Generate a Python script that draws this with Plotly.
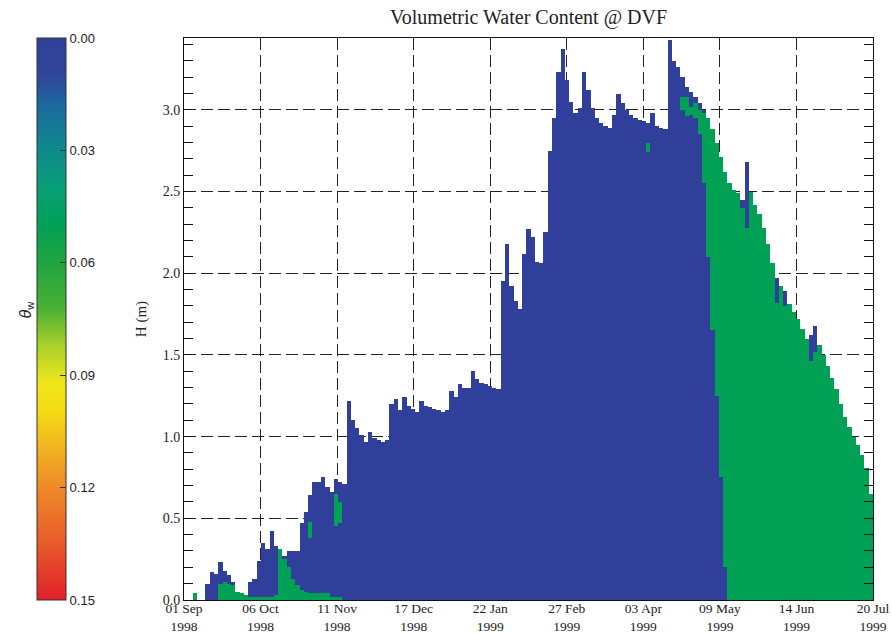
import numpy as np
import plotly.graph_objects as go

# ---------------------------------------------------------------
# Snow-pack water content at DVF, 01 Sep 1998 - 20 Jul 1999
# one column per 2-day interval (start day since 01 Sep 1998)
# ---------------------------------------------------------------
step_days = 2
n_days = 322

# snow depth H (m) for each 2-day column
snow_depth = [
    0.00, 0.00, 0.04, 0.00, 0.00, 0.10, 0.17, 0.16, 0.23, 0.18,
    0.15, 0.11, 0.05, 0.04, 0.03, 0.11, 0.13, 0.24, 0.35, 0.31,
    0.42, 0.33, 0.31, 0.27, 0.30, 0.30, 0.30, 0.47, 0.54, 0.64,
    0.72, 0.72, 0.75, 0.69, 0.66, 0.74, 0.72, 0.71, 1.22, 1.10,
    1.05, 1.01, 0.97, 1.03, 0.99, 0.98, 0.97, 0.98, 1.20, 1.23,
    1.16, 1.24, 1.19, 1.17, 1.15, 1.22, 1.19, 1.18, 1.17, 1.16,
    1.15, 1.16, 1.28, 1.24, 1.32, 1.30, 1.30, 1.40, 1.35, 1.33,
    1.32, 1.31, 1.30, 1.29, 1.95, 2.18, 1.92, 1.83, 1.78, 2.12,
    2.27, 2.22, 2.07, 2.06, 2.25, 2.75, 2.95, 3.23, 3.37, 3.18,
    3.05, 2.98, 3.01, 3.23, 3.12, 3.01, 2.95, 2.92, 2.90, 2.89,
    2.97, 3.10, 3.04, 3.00, 2.97, 2.95, 2.94, 2.93, 2.92, 2.98,
    2.90, 2.89, 2.88, 3.43, 3.30, 3.26, 3.20, 3.14, 3.11, 3.08,
    3.04, 3.00, 2.95, 2.88, 2.80, 2.71, 2.62, 2.55, 2.51, 2.49,
    2.45, 2.68, 2.50, 2.42, 2.36, 2.28, 2.18, 2.06, 1.97, 1.92,
    1.89, 1.81, 1.76, 1.72, 1.66, 1.60, 1.62, 1.68, 1.56, 1.50,
    1.43, 1.36, 1.29, 1.20, 1.12, 1.06, 1.00, 0.95, 0.89, 0.81,
    0.65,
]

# top of the wet basal layer (m above ground) for each column
basal_wet_top = [
    0.00, 0.00, 0.04, 0.00, 0.00, 0.00, 0.00, 0.00, 0.10, 0.11,
    0.10, 0.09, 0.05, 0.04, 0.03, 0.02, 0.02, 0.02, 0.02, 0.02,
    0.02, 0.03, 0.31, 0.25, 0.20, 0.13, 0.09, 0.06, 0.05, 0.035,
    0.035, 0.035, 0.035, 0.035, 0.02, 0.02, 0.02, 0.00, 0.00, 0.00,
    0.00, 0.00, 0.00, 0.00, 0.00, 0.00, 0.00, 0.00, 0.00, 0.00,
    0.00, 0.00, 0.00, 0.00, 0.00, 0.00, 0.00, 0.00, 0.00, 0.00,
    0.00, 0.00, 0.00, 0.00, 0.00, 0.00, 0.00, 0.00, 0.00, 0.00,
    0.00, 0.00, 0.00, 0.00, 0.00, 0.00, 0.00, 0.00, 0.00, 0.00,
    0.00, 0.00, 0.00, 0.00, 0.00, 0.00, 0.00, 0.00, 0.00, 0.00,
    0.00, 0.00, 0.00, 0.00, 0.00, 0.00, 0.00, 0.00, 0.00, 0.00,
    0.00, 0.00, 0.00, 0.00, 0.00, 0.00, 0.00, 0.00, 0.00, 0.00,
    0.00, 0.00, 0.00, 0.00, 0.00, 0.00, 0.00, 0.00, 0.00, 0.00,
    0.00, 0.00, 0.00, 0.00, 0.00, 0.00, 0.00, 2.55, 2.51, 2.49,
    2.40, 2.28, 2.50, 2.42, 2.36, 2.28, 2.18, 2.06, 1.82, 1.92,
    1.80, 1.81, 1.76, 1.72, 1.66, 1.60, 1.46, 1.52, 1.56, 1.50,
    1.43, 1.36, 1.29, 1.20, 1.12, 1.06, 1.00, 0.95, 0.89, 0.81,
    0.65,
]

# wet bands higher up in the pack (percolation / melt front)
upper_wet_day = [58, 70, 72, 216, 232, 234, 236, 238, 240, 242, 244, 246, 248, 250, 252]
upper_wet_lo = [0.38, 0.45, 0.47, 2.74, 3.00, 2.96, 2.97, 2.95, 2.85, 2.55, 2.10, 1.65, 1.25, 0.75, 0.20]
upper_wet_hi = [0.48, 0.65, 0.60, 2.80, 3.08, 3.08, 3.02, 3.04, 3.00, 2.98, 2.95, 2.88, 2.80, 2.71, 2.62]

theta_dry = 0.0
theta_wet = 0.05

# axis labelling
tick_labels = ["01 Sep<br>1998", "06 Oct<br>1998", "11 Nov<br>1998", "17 Dec<br>1998",
               "22 Jan<br>1999", "27 Feb<br>1999", "03 Apr<br>1999", "09 May<br>1999",
               "14 Jun<br>1999", "20 Jul<br>1999"]
h_ticks = [0.0, 0.5, 1.0, 1.5, 2.0, 2.5, 3.0]
cbar_ticks = [0.00, 0.03, 0.06, 0.09, 0.12, 0.15]

# colour table for theta_w
theta_stops = [0.000, 0.010, 0.018, 0.030, 0.040, 0.050, 0.060, 0.072,
               0.082, 0.092, 0.100, 0.110, 0.120, 0.135, 0.150]
theta_colors = ["#30409A", "#2F469A", "#1C6A9E", "#0E8A8C", "#08A078", "#00A055",
                "#22A440", "#48B034", "#A8D02A", "#F0E61A", "#F5DA14", "#F2B020",
                "#EE8A28", "#E85A2A", "#E0202A"]

# ---------------------------------------------------------------
# build the depth/time grid
# ---------------------------------------------------------------
theta_max = 0.15
h_top = 3.44
dy = 0.01
x_edges = np.arange(0, n_days + step_days, step_days)
y_edges = np.round(np.arange(0, h_top + dy / 2, dy), 4)
y_mid = y_edges[:-1] + dy / 2

depth = np.array(snow_depth)
basal = np.array(basal_wet_top)
theta = np.full((len(y_mid), len(depth)), np.nan)
for j in range(len(depth)):
    snow = y_mid < depth[j]
    wet = y_mid < basal[j]
    d0 = j * step_days
    for d, lo, hi in zip(upper_wet_day, upper_wet_lo, upper_wet_hi):
        if d == d0:
            wet |= (y_mid >= lo) & (y_mid < hi)
    theta[snow & ~wet, j] = theta_dry
    theta[snow & wet, j] = theta_wet

# the colour bar runs from 0.00 at the top to 0.15 at the bottom,
# so the colour axis is laid out on -theta
colorscale = sorted([[1 - t / theta_max, c] for t, c in zip(theta_stops, theta_colors)])

serif = "Liberation Serif, Times New Roman, serif"
sans = "Liberation Sans, Arial, sans-serif"

fig = go.Figure(go.Heatmap(
    x=x_edges, y=y_edges, z=-theta, customdata=theta,
    zmin=-theta_max, zmax=0, colorscale=colorscale, zsmooth=False,
    hovertemplate="day %{x}<br>H = %{y:.2f} m<br>θw = %{customdata:.3f}<extra></extra>",
    colorbar=dict(
        xref="container", x=37 / 892, xanchor="left", xpad=0,
        y=0.5, yanchor="middle", len=1, lenmode="fraction", ypad=0,
        thickness=29, thicknessmode="pixels",
        outlinewidth=1, outlinecolor="#333",
        tickvals=[-t for t in cbar_ticks], ticktext=[f"{t:.2f}" for t in cbar_ticks],
        ticks="inside", ticklen=6, tickcolor="#333",
        tickfont=dict(family=sans, size=13, color="#222"),
    ),
))

fig.update_layout(
    width=892, height=633,
    margin=dict(l=184, r=19, t=38, b=33, autoexpand=False),
    paper_bgcolor="white", plot_bgcolor="white",
    title=dict(text="Volumetric Water Content @ DVF", x=(184 + 873) / 2 / 892, xanchor="center",
               y=1 - 17 / 633, yanchor="middle",
               font=dict(family=serif, size=20, color="#222")),
    annotations=[dict(
        text="<i>θ</i><sub>w</sub>", xref="paper", yref="paper",
        x=(14 - 184) / 689, y=(600 - 310) / 562, showarrow=False, textangle=-90,
        font=dict(family=sans, size=16, color="#222"),
    )],
)

fig.update_xaxes(
    range=[0, n_days], tickmode="array", automargin=False,
    tickvals=[i * n_days / 9 for i in range(10)], ticktext=tick_labels,
    ticks="", ticklabelstandoff=-4,
    showgrid=True, griddash="12px,5px", gridcolor="#222", gridwidth=1,
    showline=True, mirror=True, linecolor="#111", linewidth=1, zeroline=False,
    tickfont=dict(family=serif, size=13.5, color="#222"),
)
fig.update_yaxes(
    range=[0, h_top], tickmode="array", tickvals=h_ticks, automargin=False,
    ticktext=[f"{v:.1f}" for v in h_ticks],
    ticks="inside", ticklen=9, tickcolor="#111",
    minor=dict(dtick=0.1, ticks="inside", ticklen=9, tickcolor="#111", showgrid=False),
    showgrid=True, griddash="12px,5px", gridcolor="#222", gridwidth=1,
    showline=True, mirror="ticks", linecolor="#111", linewidth=1, zeroline=False,
    tickfont=dict(family=serif, size=14, color="#222"),
    title=dict(text="H (m)", font=dict(family=serif, size=15, color="#222"), standoff=12),
)

fig.write_html("out.html")
